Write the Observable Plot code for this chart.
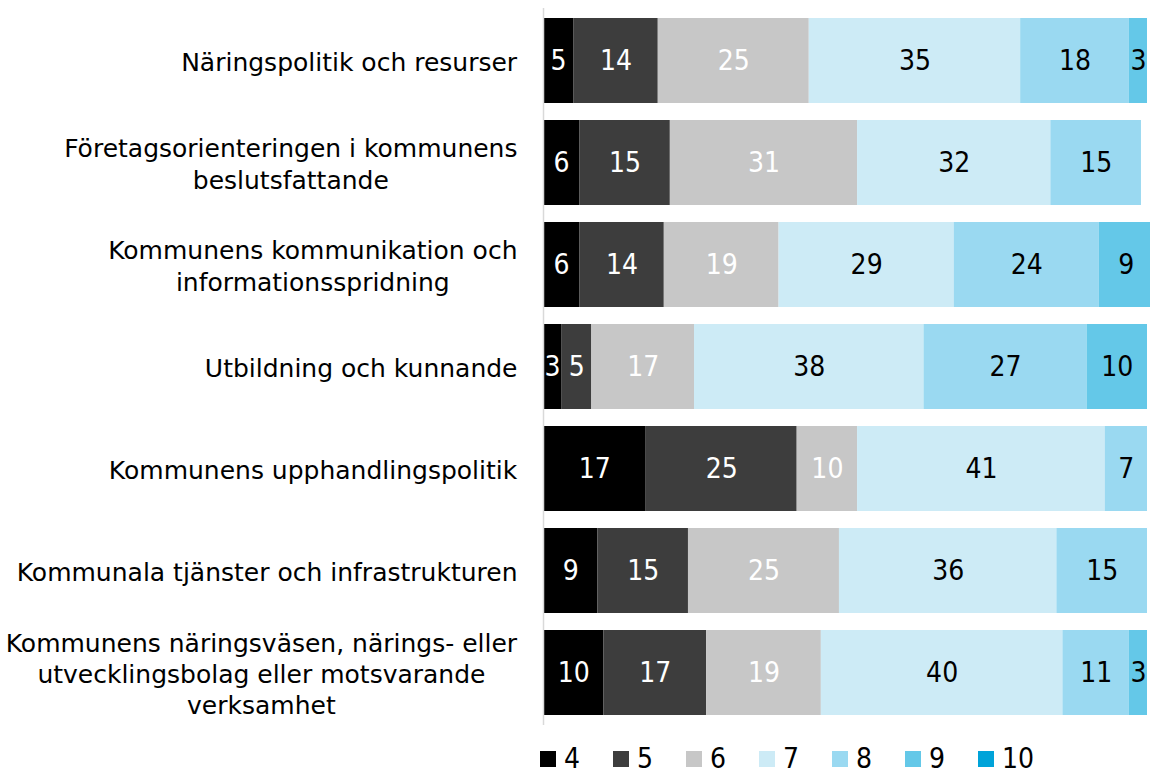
<!DOCTYPE html>
<html>
<head>
<meta charset="utf-8">
<script src="https://cdn.jsdelivr.net/npm/d3@7"></script>
<script src="https://cdn.jsdelivr.net/npm/@observablehq/plot@0.6"></script>
<style>
  body { margin: 0; background: #fff; overflow: hidden; }
  #chart svg { display: block; }
  .legend { display: flex; margin-left: 540px; margin-top: 8px; font-family: "Liberation Sans Narrow", "DejaVu Sans Condensed", sans-serif; font-size: 28px; line-height: 32px; height: 32px; }
  .legend .item { display: flex; align-items: center; width: 73px; }
  .legend .sw { width: 16px; height: 16px; margin-right: 8px; }
</style>
</head>
<body>
<div id="chart"></div>
<div class="legend" id="legend"></div>
<script>
const categories = [
  "Näringspolitik och resurser",
  "Företagsorienteringen i kommunens\nbeslutsfattande",
  "Kommunens kommunikation och\ninformationsspridning",
  "Utbildning och kunnande",
  "Kommunens upphandlingspolitik",
  "Kommunala tjänster och infrastrukturen",
  "Kommunens näringsväsen, närings- eller\nutvecklingsbolag eller motsvarande\nverksamhet"
];
const seriesNames = ["4", "5", "6", "7", "8", "9", "10"];
const seriesColors = ["#000000", "#3d3d3d", "#c7c7c7", "#cdebf6", "#9ad9f1", "#64c8e8", "#00a3d9"];
const labelColors = ["#ffffff", "#ffffff", "#ffffff", "#000000", "#000000", "#000000", "#000000"];
// values per category, in series order 4..10
const values = [
  [5, 14, 25, 35, 18, 3, 0],
  [6, 15, 31, 32, 15, 0, 0],
  [6, 14, 19, 29, 24, 9, 0],
  [3, 5, 17, 38, 27, 10, 0],
  [17, 25, 10, 41, 7, 0, 0],
  [9, 15, 25, 36, 15, 0, 0],
  [10, 17, 19, 40, 11, 3, 0]
];

const data = [];
categories.forEach((c, i) => {
  seriesNames.forEach((s, j) => {
    if (values[i][j] > 0) data.push({cat: c, series: s, value: values[i][j], labelColor: labelColors[j]});
  });
});

const stackOpts = {x: "value", y: "cat", z: "series", order: seriesNames};

const plot = Plot.plot({
  width: 1150,
  height: 735,
  marginLeft: 543,
  marginRight: 3,
  marginTop: 8,
  marginBottom: 10,
  x: {domain: [0, 100], axis: null},
  y: {domain: categories, axis: null, paddingInner: 0.168, paddingOuter: 0.098},
  color: {domain: seriesNames, range: seriesColors, type: "ordinal"},
  marks: [
    Plot.barX(data, Plot.stackX({...stackOpts, fill: "series"})),
    Plot.text(data, Plot.stackX({...stackOpts, text: "value", fill: "labelColor",
      fontSize: 28, fontFamily: "'Liberation Sans Narrow', 'DejaVu Sans Condensed', sans-serif"})),
    Plot.ruleX([0], {stroke: "#d9d9d9", strokeWidth: 1.5}),
    Plot.text(categories, {x: 0, y: d => d, text: d => d, textAnchor: "end", dx: -26,
      fontSize: 25, lineHeight: 1.25, fill: "#000", fontFamily: "'DejaVu Sans', sans-serif",
      className: "catlabel"})
  ]
});
document.getElementById("chart").appendChild(plot);

// center multi-line category labels within their block (right edge fixed)
plot.querySelectorAll(".catlabel text").forEach(t => {
  const bb = t.getBBox();
  t.setAttribute("text-anchor", "middle");
  const tspans = t.querySelectorAll("tspan");
  if (tspans.length) tspans.forEach(ts => ts.setAttribute("x", -bb.width / 2));
  else t.setAttribute("x", -bb.width / 2);
});

const legend = document.getElementById("legend");
seriesNames.forEach((s, j) => {
  const it = document.createElement("div");
  it.className = "item";
  const sw = document.createElement("div");
  sw.className = "sw";
  sw.style.background = seriesColors[j];
  const lb = document.createElement("span");
  lb.textContent = s;
  it.appendChild(sw); it.appendChild(lb);
  legend.appendChild(it);
});
</script>
</body>
</html>
